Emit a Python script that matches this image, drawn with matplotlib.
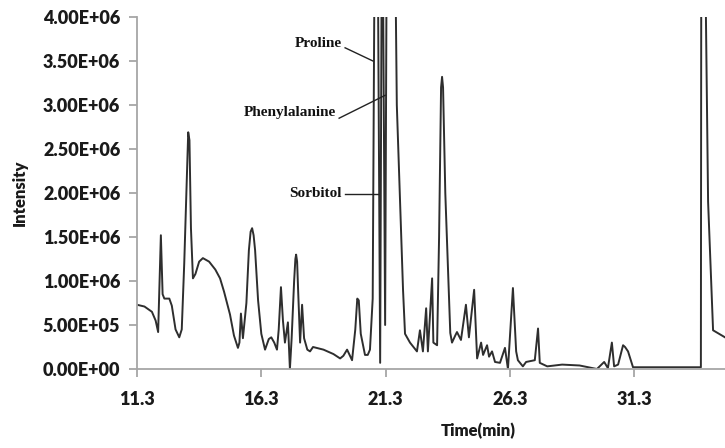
import matplotlib
matplotlib.use("Agg")
import matplotlib.pyplot as plt
from matplotlib import font_manager as fm

# retention time (min) and intensity (counts, in millions)
time_min = [11.30, 11.60, 11.90, 12.05, 12.15, 12.26, 12.33, 12.40, 12.60, 12.70,
            12.85, 13.00, 13.10, 13.20, 13.36, 13.41, 13.47, 13.55, 13.65, 13.80,
            13.95, 14.20, 14.45, 14.64, 14.80, 15.04, 15.20, 15.36, 15.42, 15.48,
            15.56, 15.70, 15.80, 15.87, 15.93, 15.99, 16.05, 16.17, 16.30, 16.45,
            16.60, 16.70, 16.82, 16.93, 17.00, 17.09, 17.17, 17.25, 17.37, 17.45,
            17.52, 17.62, 17.67, 17.70, 17.74, 17.78, 17.86, 17.94, 18.02, 18.15,
            18.26, 18.38, 18.80, 19.20, 19.47, 19.60, 19.75, 19.85, 19.95, 20.08,
            20.16, 20.22, 20.30, 20.47, 20.58, 20.67, 20.78, 20.88, 20.96, 21.08,
            21.16, 21.28, 21.36, 21.64, 21.75, 21.88, 22.00, 22.08, 22.28, 22.56,
            22.68, 22.80, 22.93, 23.00, 23.17, 23.22, 23.37, 23.45, 23.53, 23.57,
            23.61, 23.70, 23.90, 23.97, 24.10, 24.17, 24.33, 24.53, 24.65, 24.86,
            24.98, 25.14, 25.22, 25.38, 25.46, 25.58, 25.70, 25.90, 26.10, 26.22,
            26.42, 26.55, 26.62, 26.82, 26.95, 27.30, 27.43, 27.50, 27.80, 28.40,
            29.10, 29.80, 30.09, 30.24, 30.40, 30.49, 30.65, 30.85, 30.93, 31.05,
            31.25, 33.98, 34.00, 34.10, 34.27, 34.47, 34.95]
intensity_m = [0.73, 0.71, 0.65, 0.55, 0.42, 1.52, 0.85, 0.80, 0.80, 0.72,
               0.45, 0.36, 0.45, 1.20, 2.69, 2.60, 1.60, 1.03, 1.08, 1.22,
               1.26, 1.22, 1.13, 1.03, 0.88, 0.62, 0.38, 0.24, 0.30, 0.63,
               0.35, 0.75, 1.35, 1.56, 1.60, 1.52, 1.35, 0.78, 0.40, 0.22,
               0.34, 0.36, 0.30, 0.22, 0.45, 0.93, 0.55, 0.30, 0.53, 0.00,
               0.35, 1.00, 1.25, 1.30, 1.22, 0.90, 0.30, 0.73, 0.35, 0.22,
               0.20, 0.25, 0.22, 0.17, 0.12, 0.15, 0.22, 0.16, 0.10, 0.45,
               0.80, 0.78, 0.40, 0.16, 0.16, 0.22, 0.80, 6.00, 6.00, 0.07,
               6.00, 0.50, 6.00, 6.00, 3.00, 1.90, 0.90, 0.40, 0.30, 0.20,
               0.44, 0.20, 0.69, 0.20, 1.03, 0.30, 0.27, 1.50, 3.20, 3.32,
               3.20, 2.00, 0.41, 0.30, 0.38, 0.42, 0.33, 0.73, 0.36, 0.90,
               0.12, 0.30, 0.16, 0.27, 0.14, 0.20, 0.08, 0.07, 0.24, 0.00,
               0.92, 0.20, 0.10, 0.03, 0.08, 0.10, 0.46, 0.07, 0.03, 0.05,
               0.04, 0.00, 0.08, 0.01, 0.30, 0.03, 0.05, 0.27, 0.25, 0.20,
               0.02, 0.02, 6.00, 6.00, 1.90, 0.44, 0.36]

x_ticks = [11.3, 16.3, 21.3, 26.3, 31.3]
y_ticks_m = [0.0, 0.5, 1.0, 1.5, 2.0, 2.5, 3.0, 3.5, 4.0]
y_tick_labels = ["0.00E+00", "5.00E+05", "1.00E+06", "1.50E+06", "2.00E+06",
                 "2.50E+06", "3.00E+06", "3.50E+06", "4.00E+06"]

# annotation: label, text anchor (x, y in millions), line start / end (x, y in millions)
ann_labels = ["Proline", "Phenylalanine", "Sorbitol"]
ann_text_xy = [(19.55, 3.70), (19.30, 2.92), (19.55, 2.00)]
ann_line_start = [(19.67, 3.65), (19.43, 2.85), (19.67, 1.99)]
ann_line_end = [(20.79, 3.50), (21.28, 3.11), (21.00, 1.99)]

avail = {f.name for f in fm.fontManager.ttflist}
sans = [f for f in ["Lato", "DejaVu Sans"] if f in avail]
serif = [f for f in ["Liberation Serif", "DejaVu Serif"] if f in avail]

intensity = [v * 1e6 for v in intensity_m]

fig = plt.figure(figsize=(7.25, 4.48), dpi=100)
ax = fig.add_axes([137 / 725, 1 - 369 / 448, 1 - 137 / 725, (369 - 17) / 448])

ax.plot(time_min, intensity, color="#2e2e2e", lw=1.4, solid_joinstyle="round")

ax.set_xlim(11.3, 34.95)
ax.set_ylim(0, 4e6)
ax.set_xticks(x_ticks)
ax.set_xticklabels([f"{t:.1f}" for t in x_ticks])
ax.set_yticks([v * 1e6 for v in y_ticks_m])
ax.set_yticklabels(y_tick_labels)

for s in ["top", "right"]:
    ax.spines[s].set_visible(False)
for s in ["left", "bottom"]:
    ax.spines[s].set_color("#a6a6a6")
    ax.spines[s].set_linewidth(1.3)

ax.tick_params(axis="both", colors="#a6a6a6", width=1.3, length=6, direction="out",
               labelcolor="#1a1a1a")
ax.tick_params(axis="y", pad=6)
ax.tick_params(axis="x", pad=10)
for lab in ax.get_xticklabels() + ax.get_yticklabels():
    lab.set_fontfamily(sans)
    lab.set_fontweight("heavy")
    lab.set_fontsize(13)

ax.set_ylabel("Intensity", family=sans, fontweight="heavy", fontsize=12, color="#1a1a1a")
ax.yaxis.set_label_coords(-0.186, 0.5)
ax.set_xlabel("Time(min)", family=sans, fontweight="heavy", fontsize=12, color="#1a1a1a")
ax.xaxis.set_label_coords(0.58, -0.152)

for lab, txy, ls, le in zip(ann_labels, ann_text_xy, ann_line_start, ann_line_end):
    ax.text(txy[0], txy[1] * 1e6, lab, family=serif, fontweight="bold", fontsize=11,
            ha="right", va="center", color="#111111")
    ax.plot([ls[0], le[0]], [ls[1] * 1e6, le[1] * 1e6], color="#222222", lw=1.0)

fig.savefig("out.png", dpi=100)
